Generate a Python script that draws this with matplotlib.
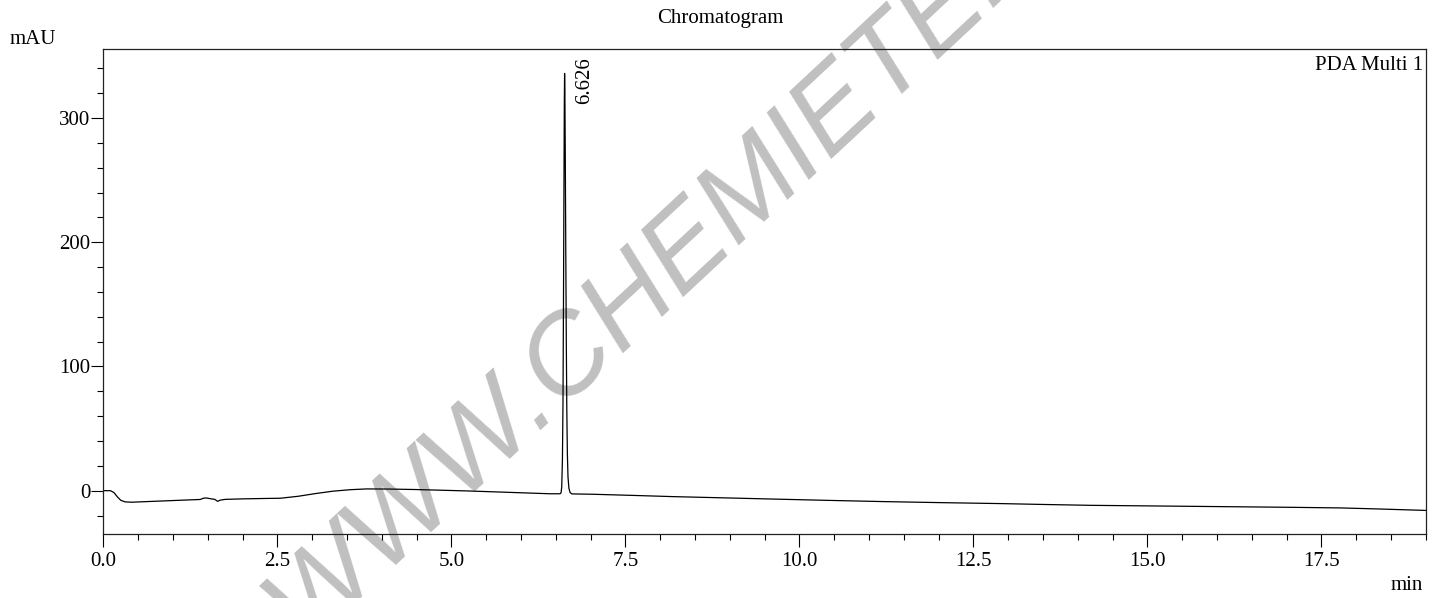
import matplotlib
matplotlib.use("Agg")
import matplotlib.pyplot as plt
from matplotlib.ticker import MultipleLocator

plt.rcParams['font.family'] = ['Liberation Serif', 'DejaVu Serif']

# retention time (min) and detector signal (mAU)
time_min = [0.00, 0.10, 0.15, 0.20, 0.25, 0.31, 0.40, 0.80, 1.20, 1.39,
            1.44, 1.48, 1.55, 1.60, 1.64, 1.68, 1.75, 2.00, 2.30, 2.54,
            2.80, 3.05, 3.30, 3.55, 3.78, 4.10, 4.50, 5.22, 5.80, 6.42,
            6.560, 6.575, 6.585, 6.595, 6.603, 6.610, 6.617, 6.622, 6.626,
            6.630, 6.636, 6.643, 6.650, 6.658, 6.666, 6.675, 6.688, 6.705,
            6.730, 7.04, 7.60, 8.19, 9.00, 9.58, 10.40, 11.21, 12.00, 12.89,
            13.50, 14.18, 15.62, 17.06, 17.78, 18.30, 19.00]
signal_mau = [0.0, 0.0, -1.5, -5.0, -7.8, -9.0, -9.3, -8.4, -7.5, -7.1,
              -6.0, -5.9, -6.6, -7.0, -8.6, -7.6, -7.0, -6.6, -6.3, -6.1,
              -4.5, -2.3, -0.4, 0.8, 1.4, 1.3, 0.9, -0.2, -1.3, -2.5,
              -2.5, -1.8, 3.0, 25.0, 70.0, 150.0, 245.0, 310.0, 336.0,
              322.0, 270.0, 195.0, 125.0, 65.0, 30.0, 11.0, 2.0, -1.5,
              -2.6, -2.9, -3.8, -4.8, -5.9, -6.7, -7.8, -8.8, -9.6, -10.4,
              -11.1, -11.8, -12.6, -13.4, -13.9, -14.7, -15.9]

peak_time = 6.626
peak_height = 336.0
peak_label = "6.626"

fig = plt.figure(figsize=(14.41, 5.98), dpi=100)
ax = fig.add_axes([0.0718, 0.107, 0.9176, 0.811])

# watermark, behind everything
fig.text(302 / 1441, -45 / 598, "WWW.CHEMIETEK.COM", fontsize=82,
         family='Liberation Sans', style='italic', color='#c0c0c0',
         rotation=43, rotation_mode='anchor', ha='left', va='baseline',
         zorder=0)
ax.set_facecolor('none')
ax.set_zorder(1)

ax.plot(time_min, signal_mau, color='black', lw=0.9)

ax.set_xlim(0, 19)
ax.set_ylim(-34.9, 355.6)
ax.xaxis.set_major_locator(MultipleLocator(2.5))
ax.xaxis.set_minor_locator(MultipleLocator(0.5))
ax.yaxis.set_major_locator(MultipleLocator(100))
ax.yaxis.set_minor_locator(MultipleLocator(20))
ax.xaxis.set_major_formatter(plt.FormatStrFormatter('%.1f'))
ax.yaxis.set_major_formatter(plt.FormatStrFormatter('%d'))

ax.tick_params(axis='both', which='major', direction='out', length=9,
               width=0.8, labelsize=15)
ax.tick_params(axis='both', which='minor', direction='out', length=4.5,
               width=0.8)
ax.tick_params(axis='y', which='major', pad=0.5)
ax.tick_params(axis='x', which='major', pad=4)
for s in ax.spines.values():
    s.set_linewidth(0.9)
    s.set_color('#222222')

ax.annotate(peak_label, xy=(peak_time, peak_height), xytext=(25, -31),
            textcoords='offset pixels', rotation=90, rotation_mode='anchor',
            ha='left', va='baseline', fontsize=15)

ax.text(0.9982, 0.9567, "PDA Multi 1", transform=ax.transAxes,
        ha='right', va='baseline', fontsize=15)
fig.text(0.5, 0.9615, "Chromatogram", ha='center', va='baseline', fontsize=15)
fig.text(0.0065, 0.926, "mAU", ha='left', va='baseline', fontsize=15)
fig.text(0.9875, 0.0134, "min", ha='right', va='baseline', fontsize=15)

fig.savefig("out.png", dpi=100)
